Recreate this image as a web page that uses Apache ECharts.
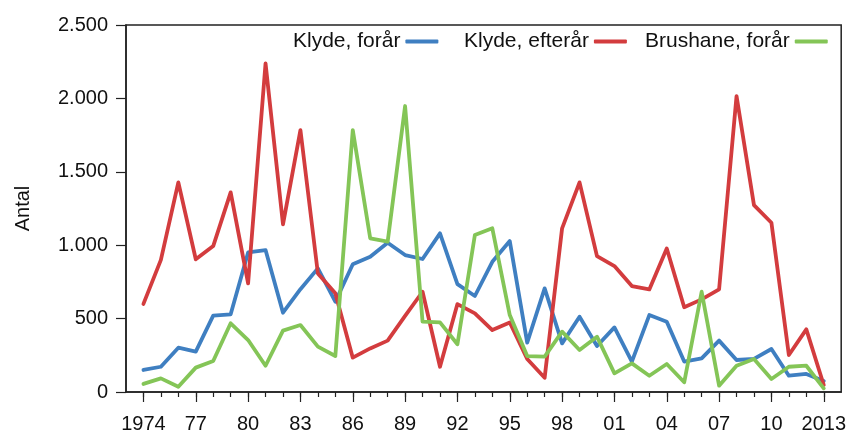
<!DOCTYPE html>
<html>
<head>
<meta charset="utf-8">
<script src="https://cdn.jsdelivr.net/npm/echarts@6/dist/echarts.min.js"></script>
<style>
  html, body { margin: 0; padding: 0; background: #fff; }
  #chart { width: 849px; height: 434px; }
</style>
</head>
<body>
<div id="chart"></div>
<script>
const years = []
for (let y = 1974; y <= 2013; y++) years.push(y)

const labelYears = [1974, 1977, 1980, 1983, 1986, 1989, 1992, 1995, 1998, 2001, 2004, 2007, 2010, 2013]

const klydeForar = [150, 172, 302, 275, 520, 529, 951, 967, 540, 700,
  842, 615, 870, 922, 1017, 933, 906, 1081, 735, 654,
  887, 1028, 336, 706, 331, 513, 313, 440, 207, 524,
  479, 207, 229, 350, 218, 225, 293, 111, 123, 75]

const klydeEfterar = [600, 900, 1428, 904, 994, 1360, 740, 2238, 1142, 1784,
  808, 672, 234, 297, 350, 518, 683, 172, 599, 536,
  422, 474, 225, 97, 1115, 1428, 926, 858, 722, 699,
  978, 577, 631, 699, 2016, 1273, 1153, 252, 427, 48]

const brushaneForar = [55, 93, 36, 166, 211, 468, 354, 179, 418, 456,
  309, 245, 1784, 1047, 1024, 1948, 479, 474, 325, 1069,
  1115, 524, 245, 241, 411, 286, 377, 127, 195, 111,
  191, 66, 683, 43, 179, 225, 89, 172, 179, 25]

const FONT = 'Liberation Sans, Arial, sans-serif'
const AXIS_COLOR = '#222'

// tal med punktum som tusindtalsseparator
const fmtThousand = (v) => {
  if (v < 1000) return String(v)
  return Math.floor(v / 1000) + '.' + String(v % 1000).padStart(3, '0')
}

const fmtYear = (v) => (v === 1974 || v === 2013) ? String(v) : String(v).slice(2)

const toPairs = (arr) => arr.map((v, i) => [years[i], v])

const lineSeries = (name, data, color) => ({
  name,
  type: 'line',
  xAxisIndex: 0,
  data: toPairs(data),
  showSymbol: false,
  symbol: 'none',
  lineStyle: { color, width: 3.8, join: 'round', cap: 'round' },
  itemStyle: { color },
  animation: false
})

const legendItem = (name, left) => ({
  data: [name],
  left,
  top: 31,
  align: 'right',
  icon: 'roundRect',
  itemWidth: 33,
  itemHeight: 4,
  itemGap: 0,
  padding: 0,
  textStyle: { fontFamily: FONT, fontSize: 21, color: '#111', padding: [0, 0, 0, 0] },
  selectedMode: false
})

const chart = echarts.init(document.getElementById('chart'), null, { renderer: 'canvas' })

chart.setOption({
  backgroundColor: '#fff',
  animation: false,
  grid: {
    left: 126, right: 5, top: 25, bottom: 42,
    show: true, borderColor: AXIS_COLOR, borderWidth: 1.5, backgroundColor: 'transparent'
  },
  legend: [
    legendItem('Klyde, forår', 293),
    legendItem('Klyde, efterår', 464),
    legendItem('Brushane, forår', 645)
  ],
  xAxis: [
    {
      type: 'value',
      min: 1973,
      max: 2014,
      position: 'bottom',
      splitLine: { show: false },
      axisLine: { show: true, lineStyle: { color: AXIS_COLOR, width: 1.5 } },
      axisTick: { show: true, customValues: years, length: 5, lineStyle: { color: AXIS_COLOR, width: 1.2 } },
      axisLabel: {
        customValues: labelYears,
        formatter: fmtYear,
        margin: 22,
        fontFamily: FONT, fontSize: 20, color: '#111'
      }
    },
    {
      // lange streger ved årstal med etiket
      type: 'value',
      min: 1973,
      max: 2014,
      position: 'bottom',
      splitLine: { show: false },
      axisLine: { show: false },
      axisTick: { show: true, customValues: labelYears, length: 10, lineStyle: { color: AXIS_COLOR, width: 1.2 } },
      axisLabel: { show: false }
    }
  ],
  yAxis: {
    type: 'value',
    min: 0,
    max: 2500,
    interval: 500,
    name: 'Antal',
    nameLocation: 'middle',
    nameGap: 93,
    nameTextStyle: { fontFamily: FONT, fontSize: 20, color: '#111' },
    splitLine: { show: false },
    axisLine: { show: true, lineStyle: { color: AXIS_COLOR, width: 1.5 } },
    axisTick: { show: true, length: 10, lineStyle: { color: AXIS_COLOR, width: 1.2 } },
    axisLabel: { formatter: fmtThousand, margin: 18, fontFamily: FONT, fontSize: 20, color: '#111' }
  },
  series: [
    lineSeries('Klyde, forår', klydeForar, '#3f7fc1'),
    lineSeries('Klyde, efterår', klydeEfterar, '#d33c3e'),
    lineSeries('Brushane, forår', brushaneForar, '#84c557')
  ]
})

window.addEventListener('resize', () => chart.resize())
</script>
</body>
</html>
